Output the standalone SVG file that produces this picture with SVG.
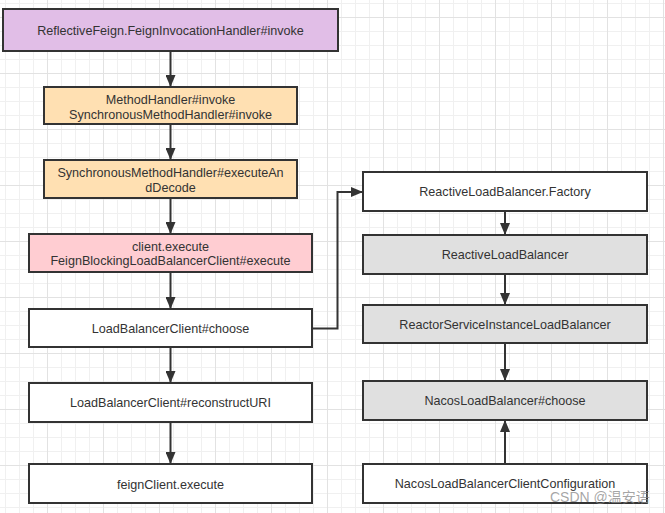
<svg xmlns="http://www.w3.org/2000/svg" width="665" height="513" viewBox="0 0 665 513">
<defs>
<pattern id="grid" patternUnits="userSpaceOnUse" x="0" y="0" width="56" height="56">
<path d="M5.5 0V56M19.5 0V56M33.5 0V56M0 3.5H56M0 31.5H56M0 45.5H56" stroke="#f0f0f0" stroke-width="1" fill="none"/>
<path d="M47.5 0V56M0 17.5H56" stroke="#e2e2e2" stroke-width="1" fill="none"/>
</pattern>
<marker id="arr" markerUnits="userSpaceOnUse" markerWidth="12" markerHeight="10" refX="12" refY="5" orient="auto">
<path d="M0 0L12 5L0 10Z" fill="#333"/>
</marker>
</defs>
<style>
.box{stroke:#333;stroke-width:2}
.w{fill:#fff}.p{fill:#e1bee7}.o{fill:#ffe0b2}.r{fill:#ffcdd2}.g{fill:#e0e0e0}
.t{font-family:"Liberation Sans",Arial,sans-serif;font-size:12.6px;fill:#333;text-anchor:middle}
.e{stroke:#333;stroke-width:2;fill:none;marker-end:url(#arr)}
</style>
<rect width="665" height="513" fill="#fff"/>
<rect width="665" height="513" fill="url(#grid)"/>
<g id="n1"><rect class="box p" x="3" y="9" width="335" height="42"/><text class="t" x="170.5" y="34.5">ReflectiveFeign.FeignInvocationHandler#invoke</text></g>
<g id="n2"><rect class="box o" x="44" y="87" width="253" height="37"/><text class="t" x="170.5" y="103.5">MethodHandler#invoke</text><text class="t" x="170.5" y="118.5">SynchronousMethodHandler#invoke</text></g>
<g id="n3"><rect class="box o" x="44" y="160" width="253" height="38"/><text class="t" x="170.5" y="177">SynchronousMethodHandler#executeAn</text><text class="t" x="170.5" y="191.5">dDecode</text></g>
<g id="n4"><rect class="box r" x="29" y="234" width="283" height="38"/><text class="t" x="170.5" y="250.5">client.execute</text><text class="t" x="170.5" y="265">FeignBlockingLoadBalancerClient#execute</text></g>
<g id="n5"><rect class="box w" x="29" y="309" width="283" height="38"/><text class="t" x="170.5" y="332.5">LoadBalancerClient#choose</text></g>
<g id="n6"><rect class="box w" x="29" y="383" width="283" height="39"/><text class="t" x="170.5" y="407">LoadBalancerClient#reconstructURI</text></g>
<g id="n7"><rect class="box w" x="29" y="464" width="283" height="39"/><text class="t" x="170.5" y="488.5">feignClient.execute</text></g>
<g id="n8"><rect class="box w" x="363" y="172" width="284" height="39"/><text class="t" x="505" y="196">ReactiveLoadBalancer.Factory</text></g>
<g id="n9"><rect class="box g" x="363" y="235" width="284" height="39"/><text class="t" x="505" y="259">ReactiveLoadBalancer</text></g>
<g id="n10"><rect class="box g" x="363" y="305" width="284" height="38"/><text class="t" x="505" y="329">ReactorServiceInstanceLoadBalancer</text></g>
<g id="n11"><rect class="box g" x="363" y="381" width="284" height="39"/><text class="t" x="505" y="405">NacosLoadBalancer#choose</text></g>
<g id="n12"><rect class="box w" x="363" y="464" width="284" height="39"/><text class="t" x="505" y="488">NacosLoadBalancerClientConfiguration</text></g>
<g id="edges">
<path class="e" d="M170.5 51V87"/>
<path class="e" d="M170.5 124V160"/>
<path class="e" d="M170.5 198V234"/>
<path class="e" d="M170.5 272V309"/>
<path class="e" d="M170.5 347V383"/>
<path class="e" d="M170.5 422V464"/>
<path class="e" d="M312 328.5H337.5V192H363"/>
<path class="e" d="M505 211V235"/>
<path class="e" d="M505 274V305"/>
<path class="e" d="M505 343V381"/>
<path class="e" d="M505 464V420"/>
</g>
<text x="550" y="502" font-family="'Liberation Sans','Noto Sans CJK SC',sans-serif" font-size="14" fill="#888" fill-opacity="0.75">CSDN @温安语</text>
</svg>
